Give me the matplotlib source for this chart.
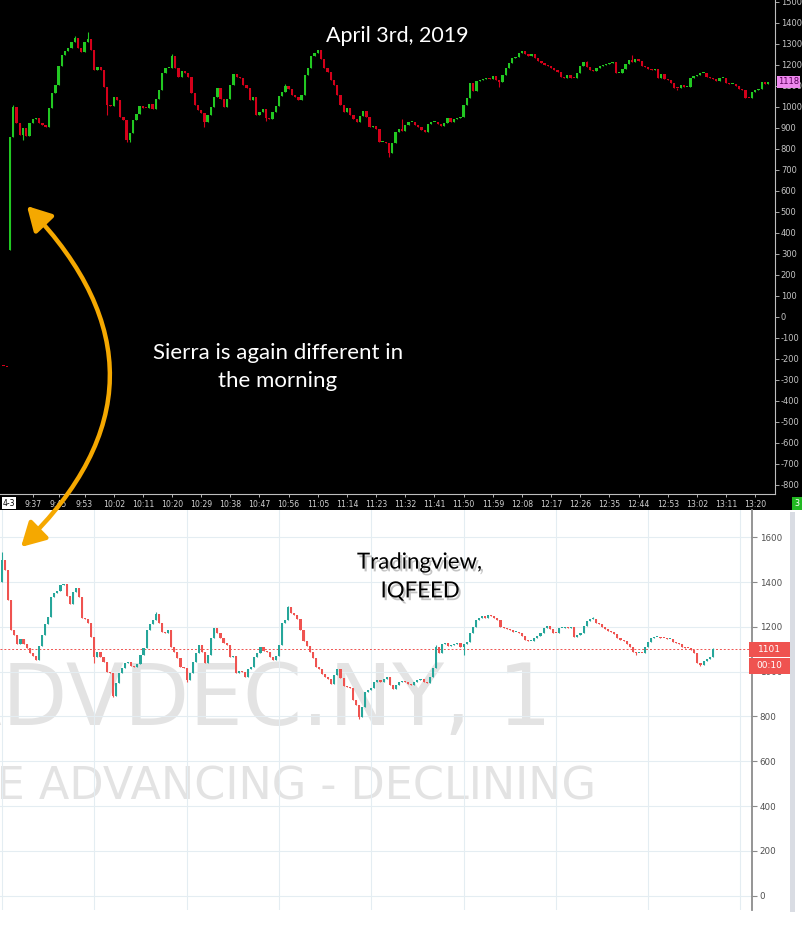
import matplotlib
matplotlib.use("Agg")
import matplotlib.pyplot as plt
import numpy as np
from matplotlib.patches import FancyArrowPatch, Rectangle
import matplotlib.patheffects as pe

plt.rcParams['axes.unicode_minus'] = False

# ---------------- data ----------------
# Sierra (top): 1-minute candles from 9:30 (minute 0)
sierra_first_open = 320
sierra_close = [
    858, 1000, 921, 866, 897, 862, 921, 942, 945, 921, 915, 905, 993, 1064, 1104, 1195,
    1246, 1265, 1278, 1310, 1326, 1278, 1262, 1310, 1322, 1270, 1175, 1191, 1175, 1096, 1008, 1005,
    1048, 1032, 953, 937, 842, 873, 937, 964, 1004, 996, 993, 1011, 988, 1037, 1080, 1159,
    1183, 1186, 1243, 1186, 1143, 1170, 1159, 1143, 1064, 1008, 985, 969, 929, 961, 1000, 1048,
    1091, 1037, 1000, 1037, 1104, 1154, 1143, 1138, 1104, 1091, 1032, 1048, 961, 977, 989, 948,
    940, 973, 1004, 1051, 1072, 1100, 1085, 1056, 1048, 1032, 1056, 1151, 1186, 1243, 1254, 1270,
    1227, 1186, 1167, 1127, 1104, 1056, 1008, 973, 996, 961, 942, 926, 958, 980, 953, 905,
    910, 894, 831, 831, 826, 778, 826, 881, 894, 885, 913, 926, 929, 913, 905, 889,
    878, 916, 926, 926, 916, 908, 921, 948, 929, 942, 945, 953, 1008, 1040, 1111, 1075,
    1122, 1127, 1132, 1135, 1132, 1148, 1127, 1119, 1151, 1186, 1207, 1234, 1238, 1254, 1265, 1249,
    1243, 1249, 1230, 1218, 1207, 1199, 1195, 1186, 1175, 1164, 1143, 1138, 1151, 1138, 1135, 1159,
    1195, 1211, 1191, 1175, 1170, 1183, 1195, 1199, 1202, 1207, 1211, 1159, 1159, 1180, 1202, 1222,
    1211, 1227, 1220, 1195, 1191, 1180, 1175, 1180, 1138, 1154, 1132, 1127, 1111, 1091, 1088, 1104,
    1096, 1096, 1135, 1148, 1151, 1159, 1159, 1143, 1138, 1132, 1122, 1135, 1138, 1111, 1107, 1107,
    1100, 1085, 1080, 1043, 1040, 1072, 1080, 1085, 1119, 1107, 1118,
]
sierra_prev_minutes = [-2, -1]
sierra_prev_close = [-235, -240]
sierra_hi_wicks = {1: 1008, 20: 1335, 24: 1354, 50: 1250, 85: 1108, 121: 940, 178: 1218, 192: 1245}
sierra_lo_wicks = {4: 842, 30: 960, 36: 830, 37: 830, 60: 905, 79: 930, 117: 762, 151: 1095, 206: 1080}
sierra_last = 1118

top_time_labels = ['9:37', '9:45', '9:53', '10:02', '10:11', '10:20', '10:29', '10:38', '10:47',
                   '10:56', '11:05', '11:14', '11:23', '11:32', '11:41', '11:50', '11:59', '12:08',
                   '12:17', '12:26', '12:35', '12:44', '12:53', '13:02', '13:11', '13:20']
top_y_ticks = list(range(-800, 1501, 100))

# TradingView / IQFEED (bottom): 1-minute candles from 9:30
tv_first_open = 1402
tv_close = [
    1498, 1454, 1320, 1186, 1164, 1123, 1144, 1123, 1104, 1085, 1070, 1052, 1115, 1164, 1213, 1245,
    1332, 1353, 1362, 1387, 1391, 1338, 1302, 1357, 1372, 1335, 1238, 1234, 1216, 1156, 1067, 1089,
    1067, 1045, 1000, 992, 891, 948, 992, 1015, 1037, 1045, 1025, 1022, 1034, 1074, 1104, 1186,
    1213, 1231, 1257, 1219, 1178, 1174, 1186, 1109, 1089, 1060, 1022, 1015, 963, 996, 1045, 1082,
    1119, 1089, 1037, 1074, 1149, 1193, 1171, 1149, 1126, 1119, 1067, 1070, 992, 1004, 1000, 975,
    1010, 1022, 1067, 1082, 1109, 1094, 1089, 1067, 1052, 1070, 1119, 1216, 1231, 1287, 1260, 1253,
    1234, 1186, 1138, 1115, 1089, 1060, 1019, 1010, 990, 978, 966, 945, 985, 1010, 970, 936,
    933, 926, 874, 851, 799, 844, 911, 918, 926, 955, 963, 955, 966, 978, 940, 921,
    940, 955, 960, 955, 945, 940, 955, 963, 966, 955, 951, 978, 1015, 1112, 1082, 1123,
    1126, 1115, 1119, 1123, 1126, 1112, 1123, 1134, 1171, 1201, 1231, 1242, 1245, 1242, 1253, 1248,
    1238, 1231, 1201, 1193, 1189, 1186, 1178, 1178, 1171, 1159, 1141, 1138, 1138, 1149, 1159, 1174,
    1193, 1204, 1189, 1174, 1171, 1193, 1196, 1198, 1193, 1201, 1156, 1164, 1171, 1204, 1228, 1234,
    1234, 1219, 1213, 1198, 1189, 1183, 1178, 1168, 1149, 1141, 1138, 1123, 1109, 1089, 1082, 1085,
    1082, 1112, 1134, 1149, 1153, 1156, 1152, 1149, 1144, 1144, 1134, 1129, 1123, 1112, 1107, 1104,
    1097, 1085, 1040, 1030, 1049, 1058, 1064, 1101,
]
tv_hi_wicks = {0: 1535, 50: 1265, 93: 1292, 141: 1120, 192: 1246, 231: 1105}
tv_lo_wicks = {30: 1037, 36: 885, 60: 955, 116: 788, 150: 1075, 206: 1075, 227: 1025}
tv_last = 1101
tv_countdown = '00:10'
bot_y_ticks = list(range(0, 1601, 200))
bot_grid_minutes = list(range(0, 241, 30))

# ---------------- layout helpers ----------------
W, H = 802, 941
fig = plt.figure(figsize=(W / 100, H / 100), dpi=100, facecolor='white')


def fx(x):
    return x / W


def fy(y):
    return 1 - y / H


fig.patches.append(Rectangle((0, fy(510)), 1, 510 / H, transform=fig.transFigure,
                             facecolor='black', edgecolor='none', zorder=-5))


def ohlc(first_open, closes, hi_w, lo_w):
    c = np.array(closes, dtype=float)
    o = np.concatenate([[first_open], c[:-1]])
    hi = np.maximum(o, c)
    lo = np.minimum(o, c)
    for k, v in hi_w.items():
        hi[k] = max(hi[k], v)
    for k, v in lo_w.items():
        lo[k] = min(lo[k], v)
    return o, c, hi, lo


def draw_candles(ax, t, o, c, hi, lo, up, dn, width, minh, wlw):
    colors = np.where(c >= o, up, dn)
    bottoms = np.minimum(o, c)
    heights = np.maximum(np.abs(c - o), minh)
    ax.vlines(t, lo, hi, colors=colors, lw=wlw, zorder=3)
    ax.bar(t, heights, width, bottom=bottoms, color=colors, lw=0, zorder=4)


# ---------------- top (Sierra) ----------------
ax_t = fig.add_axes([0, fy(494), 775 / W, 494 / H])
ax_t.set_facecolor('black')
px_per_min_t = 3.24
ax_t.set_xlim(-10 / px_per_min_t, 765 / px_per_min_t)
ax_t.set_ylim(-843, 1508)

o, c, hi, lo = ohlc(sierra_first_open, sierra_close, sierra_hi_wicks, sierra_lo_wicks)
t = np.arange(len(c))
draw_candles(ax_t, t, o, c, hi, lo, '#22c822', '#d4001a', 0.72, 5, 0.8)
pc = np.array(sierra_prev_close, float)
ax_t.bar(sierra_prev_minutes, [5] * len(pc), 0.7, bottom=pc, color='#d4001a', lw=0, zorder=4)

for s in ['left', 'top']:
    ax_t.spines[s].set_visible(False)
for s in ['right', 'bottom']:
    ax_t.spines[s].set_color('#bdbdbd')
    ax_t.spines[s].set_linewidth(0.8)
ax_t.yaxis.tick_right()
ax_t.set_yticks(top_y_ticks)
ax_t.set_yticklabels([str(v) for v in top_y_ticks])
tminutes = [(int(s.split(':')[0]) - 9) * 60 + int(s.split(':')[1]) - 30 for s in top_time_labels]
ax_t.set_xticks(tminutes)
ax_t.set_xticklabels(top_time_labels)
ax_t.tick_params(axis='y', colors='#c4c4c4', labelsize=6, length=3, width=0.6, pad=1.2)
ax_t.tick_params(axis='x', colors='#d0d0d0', labelsize=5.6, length=2, width=0.6, pad=2.5)

# last price label (top)
ax_t.text(1.004, sierra_last, str(sierra_last), transform=ax_t.get_yaxis_transform(),
          ha='left', va='center', fontsize=6, color='#5a005a', clip_on=False, zorder=10,
          bbox=dict(boxstyle='square,pad=0.15', facecolor='#ee88ee', edgecolor='none'))

fig.text(fx(9), fy(503), '4-3', ha='center', va='center', fontsize=5.5, color='black',
         bbox=dict(boxstyle='square,pad=0.15', facecolor='white', edgecolor='none'))
fig.text(fx(797), fy(503.5), '3', ha='center', va='center', fontsize=5.8, color='white',
         bbox=dict(boxstyle='square,pad=0.25', facecolor='#22b822', edgecolor='none'))

# ---------------- bottom (TradingView) ----------------
ax_b = fig.add_axes([0, fy(910), 752 / W, 400 / H])
ax_b.set_facecolor('white')
px_per_min_b = 3.077
ax_b.set_xlim(-2 / px_per_min_b, 750 / px_per_min_b)
ax_b.set_ylim(-64, 1722)

o2, c2, hi2, lo2 = ohlc(tv_first_open, tv_close, tv_hi_wicks, tv_lo_wicks)
t2 = np.arange(len(c2))
draw_candles(ax_b, t2, o2, c2, hi2, lo2, '#26a69a', '#ef5350', 0.68, 5, 0.8)
ax_b.axhline(tv_last, color='#ef5350', lw=0.7, ls=(0, (2, 2)), zorder=2)

ax_b.set_xticks(bot_grid_minutes)
ax_b.set_yticks(bot_y_ticks)
ax_b.set_yticklabels([str(v) for v in bot_y_ticks])
ax_b.grid(True, color='#e4edf2', lw=0.8, zorder=1)
ax_b.set_axisbelow(True)
ax_b.tick_params(axis='x', length=0, labelbottom=False)
ax_b.yaxis.tick_right()
ax_b.tick_params(axis='y', colors='#8a8a8a', labelcolor='#505050', labelsize=6.3,
                 length=3.5, width=0.8, pad=2)
for s in ['left', 'top', 'bottom']:
    ax_b.spines[s].set_visible(False)
ax_b.spines['right'].set_color('#8c8c8c')
ax_b.spines['right'].set_linewidth(1.3)

# watermark
ax_b.text(fx(552), fy(725), 'ADVDEC.NY, 1', transform=fig.transFigure, ha='right',
          va='baseline', fontsize=61, color='#e3e3e3', zorder=0.2)
ax_b.text(fx(596), fy(800), 'NYSE ADVANCING - DECLINING', transform=fig.transFigure,
          ha='right', va='baseline', fontsize=32, color='#e3e3e3', zorder=0.2)

# scrollbar strip
fig.patches.append(Rectangle((fx(790), fy(912)), 5 / W, 400 / H, transform=fig.transFigure,
                             facecolor='#d9dce3', edgecolor='none', zorder=1))

# price / countdown labels (bottom)
fig.patches.append(Rectangle((fx(749), fy(657)), 41 / W, 15 / H, transform=fig.transFigure,
                             facecolor='#ef5350', edgecolor='none', zorder=5))
fig.patches.append(Rectangle((fx(749), fy(673.5)), 41 / W, 15.5 / H, transform=fig.transFigure,
                             facecolor='#ef5350', edgecolor='none', zorder=5))
fig.text(fx(769.5), fy(649.5), str(tv_last), ha='center', va='center', fontsize=6.5,
         color='white', zorder=6)
fig.text(fx(769.5), fy(665.5), tv_countdown, ha='center', va='center', fontsize=6.5,
         color='white', zorder=6)

# ---------------- annotations ----------------
fig.text(fx(397), fy(36), 'April 3rd, 2019', ha='center', va='center', fontsize=15.5,
         family='Lato', color='white')
fig.text(fx(278), fy(367), 'Sierra is again different in\nthe morning', ha='center',
         va='center', multialignment='center', fontsize=16, family='Lato', color='white',
         linespacing=1.55)
fig.text(fx(420), fy(577), 'Tradingview,\nIQFEED', ha='center', va='center',
         multialignment='center', fontsize=16, family='Lato', color='black', linespacing=1.55,
         path_effects=[pe.withSimplePatchShadow(offset=(1.5, -2), shadow_rgbFace='#555555',
                                                alpha=0.35)])

arrow = FancyArrowPatch((fx(25), fy(204)), (fx(19), fy(549)), transform=fig.transFigure,
                        connectionstyle='arc3,rad=-0.5',
                        arrowstyle='<|-|>,head_length=0.9,head_width=0.5',
                        mutation_scale=16, lw=3.2, color='#f5a800', zorder=20)
fig.add_artist(arrow)

fig.savefig('out.png', dpi=100, facecolor='white')
